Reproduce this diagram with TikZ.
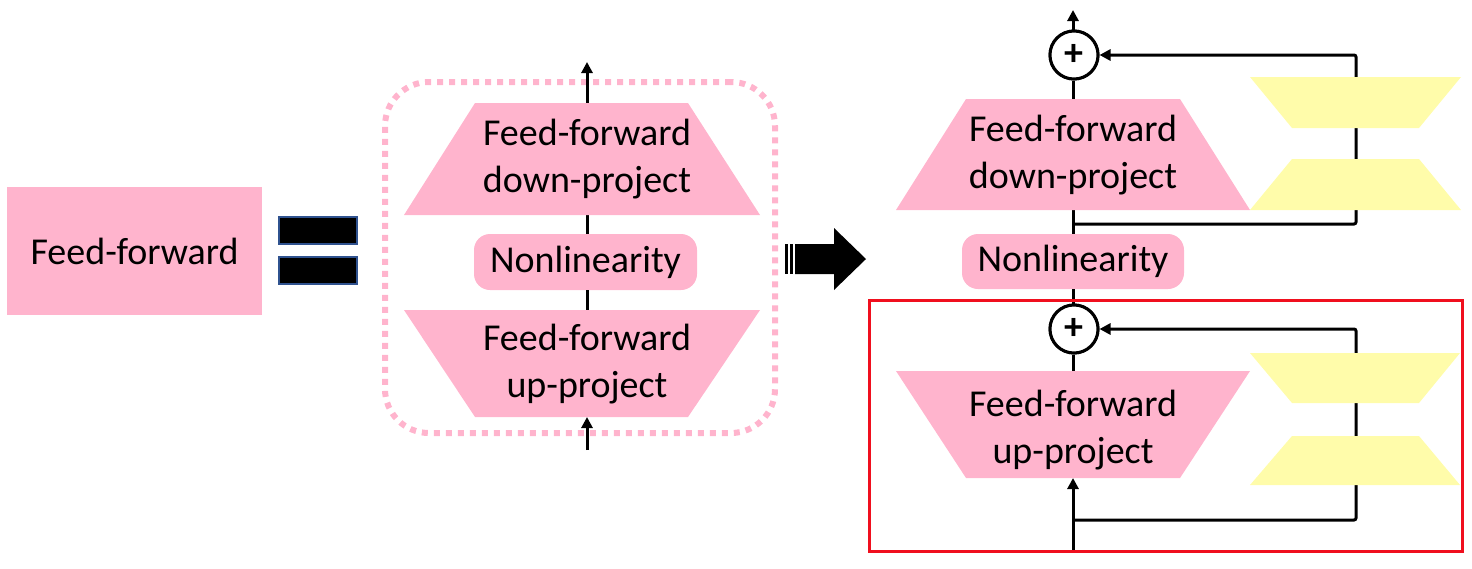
\documentclass[tikz,border=0pt]{standalone}
\usepackage{fontspec}
\setmainfont{Carlito}
\usetikzlibrary{arrows.meta}
\definecolor{ffpink}{RGB}{255,180,205}
\definecolor{ffyellow}{RGB}{255,252,170}
\definecolor{eqblue}{RGB}{47,82,143}
\definecolor{boxred}{RGB}{240,15,30}
\tikzset{
  conn/.style={line width=1.5pt, draw=black},
  arr/.style={conn, -{Triangle[length=5.5pt,width=5.5pt]}},
  lbl/.style={font=\fontsize{19}{23.5}\selectfont, align=center, text=black, inner sep=0pt},
  pinkshape/.style={fill=ffpink, draw=none},
  yelshape/.style={fill=ffyellow, draw=none},
  eqbar/.style={fill=black, draw=eqblue, line width=0.8pt, minimum width=39pt, minimum height=13.5pt, inner sep=0pt},
  plusnode/.style={circle, draw=black, line width=1.5pt, fill=white, minimum size=24pt, inner sep=0pt, font=\bfseries\fontsize{19}{19}\selectfont},
  nlbox/.style={fill=ffpink, rounded corners=8pt, minimum width=111.5pt, minimum height=28pt, inner sep=0pt, font=\fontsize{19}{23}\selectfont}
}
\begin{document}
\begin{tikzpicture}[x=0.5pt,y=-0.5pt]
\useasboundingbox (0,0) rectangle (1472,568);

% ---------- left: single feed-forward box and equals sign ----------
\node[fill=ffpink, minimum width=127.5pt, minimum height=64pt, inner sep=0pt, font=\fontsize{19}{23}\selectfont] (ff) at (134.5,251) {Feed-forward};
\node[eqbar] (eq1) at (318,230.5) {};
\node[eqbar] (eq2) at (318,270.5) {};

% ---------- middle: expanded feed-forward ----------
\node[draw=ffpink, dash pattern=on 3pt off 3pt, line width=3pt, rounded corners=22pt,
      minimum width=195pt, minimum height=175.5pt, inner sep=0pt] (grp) at (580,257.5) {};
\coordinate (min) at (587,450);
\coordinate (mout) at (587,62);
\coordinate (mupB) at (587,417);
\coordinate (mupT) at (587,310);
\coordinate (mdnB) at (587,215);
\coordinate (mdnT) at (587,103);
\node[nlbox] (mnl) at (585.5,262) {Nonlinearity};
\draw[arr] (min) -- (mupB);
\draw[conn] (mupT) -- (mnl.south -| mupT);
\draw[conn] (mnl.north -| mdnB) -- (mdnB);
\draw[arr] (mdnT) -- (mout);
\fill[pinkshape] (475,103) -- (688,103) -- (760,215) -- (404,215) -- cycle;
\fill[pinkshape] (404,310) -- (760,310) -- (688,417) -- (475,417) -- cycle;
\node[lbl] (mdn) at (587,159) {Feed-forward\\down-project};
\node[lbl] (mup) at (587,364) {Feed-forward\\up-project};

% ---------- block arrow ----------
\fill[black] (785,244) rectangle (787.5,274);
\fill[black] (789.5,244) rectangle (792.5,274);
\fill[black] (795,244) -- (834,244) -- (834,228) -- (866,259) -- (834,290) -- (834,274) -- (795,274) -- cycle;

% ---------- right: feed-forward with adapters ----------
\node[plusnode] (p1) at (1074,55) {+};
\node[plusnode] (p2) at (1074,329) {+};
\node[nlbox, minimum width=111pt, minimum height=27.5pt] (rnl) at (1073,261.5) {Nonlinearity};
\coordinate (rout) at (1073,10);
\coordinate (rin) at (1073,551);
\coordinate (rdnT) at (1073,99);
\coordinate (rdnB) at (1073,210);
\coordinate (rupT) at (1073,371);
\coordinate (rupB) at (1073,478);
\coordinate (s1a) at (1073,224);
\coordinate (s1b) at (1356,224);
\coordinate (s1c) at (1356,55);
\coordinate (s2a) at (1073,520);
\coordinate (s2b) at (1356,520);
\coordinate (s2c) at (1356,329);

\draw[arr] (p1.north -| rout) -- (rout);
\draw[conn] (rdnT) -- (p1.south -| rdnT);
\draw[conn] (rdnB) -- (rnl.north -| rdnB);
\draw[conn] (rnl.south -| rupT) -- (p2.north -| rupT);
\draw[conn] (p2.south -| rupT) -- (rupT);
\draw[arr] (rin) -- (rupB);
\draw[arr, rounded corners=1pt] (s1a) -- (s1b) -- (s1c) -- (p1.east);
\draw[arr, rounded corners=1pt] (s2a) -- (s2b) -- (s2c) -- (p2.east);

\fill[pinkshape] (966,99) -- (1180,99) -- (1250,210) -- (896,210) -- cycle;
\fill[pinkshape] (896,371) -- (1250,371) -- (1180,478) -- (966,478) -- cycle;
\node[lbl] (rdn) at (1073,155) {Feed-forward\\down-project};
\node[lbl] (rup) at (1073,430) {Feed-forward\\up-project};

\fill[yelshape] (1250,77) -- (1461,77) -- (1419,128) -- (1292,128) -- cycle;
\fill[yelshape] (1292,159) -- (1419,159) -- (1461,210) -- (1250,210) -- cycle;
\fill[yelshape] (1250,353) -- (1460,353) -- (1419,403) -- (1292,403) -- cycle;
\fill[yelshape] (1292,436) -- (1419,436) -- (1460,485) -- (1250,485) -- cycle;

\node[plusnode] at (p1) {+};
\node[plusnode] at (p2) {+};

\node[draw=boxred, line width=1.5pt, minimum width=296.5pt, minimum height=125.5pt, inner sep=0pt] (redbox) at (1165.5,425.5) {};
\end{tikzpicture}
\end{document}
